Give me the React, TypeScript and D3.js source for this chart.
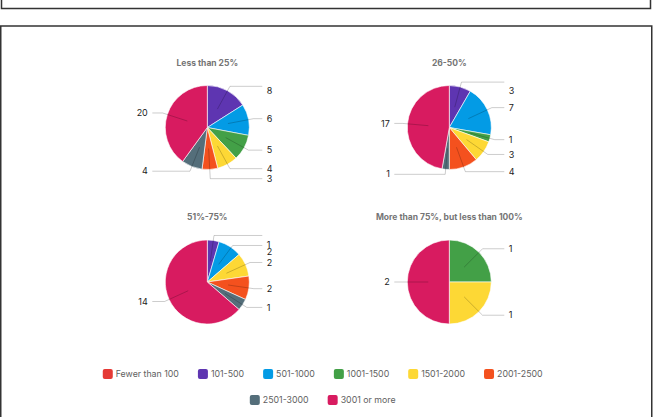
import * as React from "react";
import * as d3 from "d3";

const categories = [
  "Fewer than 100",
  "101-500",
  "501-1000",
  "1001-1500",
  "1501-2000",
  "2001-2500",
  "2501-3000",
  "3001 or more",
];
const categoryColors = [
  "#e53935",
  "#5e35b1",
  "#039be5",
  "#43a047",
  "#fdd835",
  "#f4511e",
  "#546e7a",
  "#d81b60",
];
const chartTitles = [
  "Less than 25%",
  "26-50%",
  "51%-75%",
  "More than 75%, but less than 100%",
];
// counts per category, same order as categories
const lessThan25 = [0, 8, 6, 5, 4, 3, 4, 20];
const from26To50 = [0, 3, 7, 1, 3, 4, 1, 17];
const from51To75 = [0, 1, 2, 0, 2, 2, 1, 14];
const from76To99 = [0, 0, 0, 1, 1, 0, 0, 2];
const seriesList = [lessThan25, from26To50, from51To75, from76To99];

const WIDTH = 653;
const HEIGHT = 417;
const FONT = "Inter, 'Noto Sans', sans-serif";

interface Slice {
  name: string;
  color: string;
  value: number;
}

export default function App() {
  const ref = React.useRef<HTMLDivElement | null>(null);
  React.useEffect(() => {
    const svg = d3
      .select(ref.current)
      .append("svg")
      .attr("width", WIDTH)
      .attr("height", HEIGHT)
      .style("display", "block")
      .style("font-family", FONT);

    svg.append("rect").attr("width", WIDTH).attr("height", HEIGHT).attr("fill", "#fff");

    // frames
    svg
      .append("rect")
      .attr("x", 1.5)
      .attr("y", -20)
      .attr("width", 649)
      .attr("height", 28.5)
      .attr("fill", "none")
      .attr("stroke", "#333")
      .attr("stroke-width", 1.5);
    svg
      .append("rect")
      .attr("x", 0.75)
      .attr("y", 26)
      .attr("width", 651)
      .attr("height", 420)
      .attr("fill", "none")
      .attr("stroke", "#333")
      .attr("stroke-width", 1.5);

    const colX = d3.scalePoint<number>().domain([0, 1]).range([207.3, 449.3]);
    const rowY = d3.scalePoint<number>().domain([0, 1]).range([127.5, 282]);
    const r = 42;

    const pie = d3
      .pie<Slice>()
      .sort(null)
      .value((d) => d.value);
    const arc = d3.arc<d3.PieArcDatum<Slice>>().innerRadius(0).outerRadius(r);

    seriesList.forEach((series, i) => {
      const cx = colX(i % 2)!;
      const cy = rowY(Math.floor(i / 2))!;
      const slices: Slice[] = series.map((v, k) => ({
        name: categories[k],
        color: categoryColors[k],
        value: v,
      }));
      const arcs = pie(slices).filter((a) => a.value > 0);

      const g = svg.append("g").attr("transform", `translate(${cx},${cy})`);

      g.append("text")
        .attr("x", 0)
        .attr("y", -64.5)
        .attr("text-anchor", "middle")
        .attr("dy", "0.35em")
        .attr("font-size", 8.5)
        .attr("font-weight", 700)
        .attr("fill", "#757575")
        .text(chartTitles[i]);

      g.selectAll(".slice")
        .data(arcs)
        .enter()
        .append("path")
        .attr("d", arc)
        .attr("fill", (d) => d.data.color)
        .attr("stroke", "#fff")
        .attr("stroke-width", 0.6);

      // leader line layout: elbow just outside the rim, pushed apart per side
      const R = r + 5;
      const labels = arcs.map((a) => {
        const mid = (a.startAngle + a.endAngle) / 2;
        return {
          value: a.value,
          side: Math.sin(mid) >= 0 ? 1 : -1,
          ax: 0.5 * r * Math.sin(mid),
          ay: -0.5 * r * Math.cos(mid),
          ex: R * Math.sin(mid),
          ey: -R * Math.cos(mid),
          lineY: 0,
          labelY: 0,
        };
      });
      [1, -1].forEach((side) => {
        const group = labels
          .filter((l) => l.side === side)
          .sort((a, b) => a.ey - b.ey);
        let prevLine = -Infinity;
        let prevLabel = -Infinity;
        group.forEach((l) => {
          l.lineY = Math.max(l.ey, prevLine + 10);
          prevLine = l.lineY;
          l.labelY = Math.max(l.lineY, -37, prevLabel + 7);
          prevLabel = l.labelY;
        });
      });

      const line = d3.line();
      g.selectAll(".leader")
        .data(labels)
        .enter()
        .append("path")
        .attr("d", (l) =>
          line([
            [l.ax, l.ay],
            [l.ex, l.lineY],
            [l.side * (r + 13), l.lineY],
          ])
        )
        .attr("fill", "none")
        .attr("stroke", "#000")
        .attr("stroke-opacity", 0.2)
        .attr("stroke-width", 1);

      g.selectAll(".value")
        .data(labels)
        .enter()
        .append("text")
        .attr("x", (l) => l.side * (r + 17.5))
        .attr("y", (l) => l.labelY)
        .attr("dy", "0.35em")
        .attr("text-anchor", (l) => (l.side > 0 ? "start" : "end"))
        .attr("font-size", 9)
        .attr("fill", "#222")
        .text((l) => l.value);
    });

    // legend, two centred rows
    const legendRows = [categories.slice(0, 6), categories.slice(6)];
    const legendY = [374, 400];
    const legendCenter = 322.7;
    let offset = 0;
    legendRows.forEach((row, ri) => {
      const rowG = svg.append("g");
      let x = 0;
      row.forEach((name, k) => {
        const idx = offset + k;
        rowG
          .append("rect")
          .attr("x", x)
          .attr("y", legendY[ri] - 5)
          .attr("width", 10)
          .attr("height", 10)
          .attr("rx", 2)
          .attr("fill", categoryColors[idx]);
        const t = rowG
          .append("text")
          .attr("x", x + 13)
          .attr("y", legendY[ri])
          .attr("dy", "0.35em")
          .attr("font-size", 8.8)
          .attr("fill", "#616161")
          .text(name);
        const w = (t.node() as SVGTextElement).getComputedTextLength();
        x += 13 + w + 19;
      });
      const total = x - 19;
      rowG.attr("transform", `translate(${legendCenter - total / 2},0)`);
      offset += row.length;
    });

    return function cleanup() {
      d3.select(ref.current).selectAll("svg").remove();
    };
  }, []);

  return (
    <div
      ref={ref}
      style={{ position: "absolute", left: 0, top: 0, width: WIDTH, height: HEIGHT }}
    ></div>
  );
}
